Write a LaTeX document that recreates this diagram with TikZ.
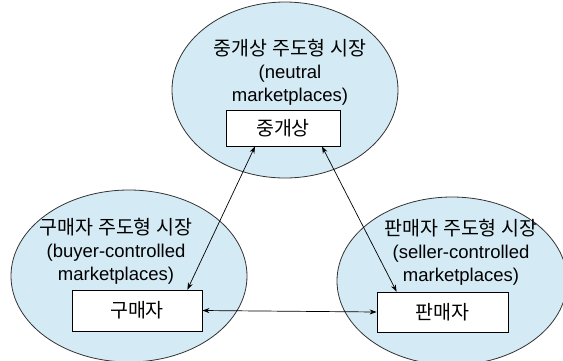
\documentclass[tikz,border=0pt]{standalone}
\usepackage{fontspec}
\setmainfont{Noto Sans CJK KR}
\newfontfamily\latin{Liberation Sans}
\newcommand\lline[1]{{\latin\fontsize{18.5}{23}\selectfont #1}}
\usetikzlibrary{arrows.meta}
\definecolor{ellfill}{HTML}{D4EAF4}
\tikzset{
  market/.style={draw=black!80, line width=0.8pt, fill=ellfill},
  actor/.style={draw=black, line width=0.8pt, fill=white, minimum width=#1, minimum height=38pt, inner sep=0pt, font=\fontsize{19.5}{21}\selectfont},
  title/.style={align=center, font=\fontsize{19.5}{23}\selectfont, inner sep=0pt},
  link/.style={line width=0.7pt, {Stealth[length=7pt,width=5pt]}-{Stealth[length=7pt,width=5pt]}}
}
\begin{document}
\begin{tikzpicture}[x=1pt,y=-1pt]
\useasboundingbox (0,0) rectangle (563,360);
\clip (0,0) rectangle (563,360);
\fill[white] (0,0) rectangle (563,360);
\draw[market] (285,90) ellipse [x radius=113, y radius=88];
\draw[market] (129,276) ellipse [x radius=118, y radius=86];
\draw[market] (452,281) ellipse [x radius=115, y radius=84];
\node[title] (tt) at (290,72) {중개상 주도형 시장\\\lline{(neutral}\\\lline{marketplaces)}};
\node[title] (lt) at (116,251) {구매자 주도형 시장\\\lline{(buyer-controlled}\\\lline{marketplaces)}};
\node[title] (rt) at (461,252) {판매자 주도형 시장\\\lline{(seller-controlled}\\\lline{marketplaces)}};
\node[actor=114pt, minimum height=36pt] (med) at (283,128) {중개상};
\node[actor=130pt, minimum height=41pt] (buy) at (137,310.5) {구매자};
\node[actor=131pt, minimum height=40pt] (sel) at (442.5,312) {판매자};
\draw[link] (buy.east) -- (sel.west);
\draw[link] ([xshift=-15pt]buy.north east) -- ([xshift=-28pt]med.south);
\draw[link] ([xshift=20pt]sel.north west) -- ([xshift=39pt]med.south);
\end{tikzpicture}
\end{document}
